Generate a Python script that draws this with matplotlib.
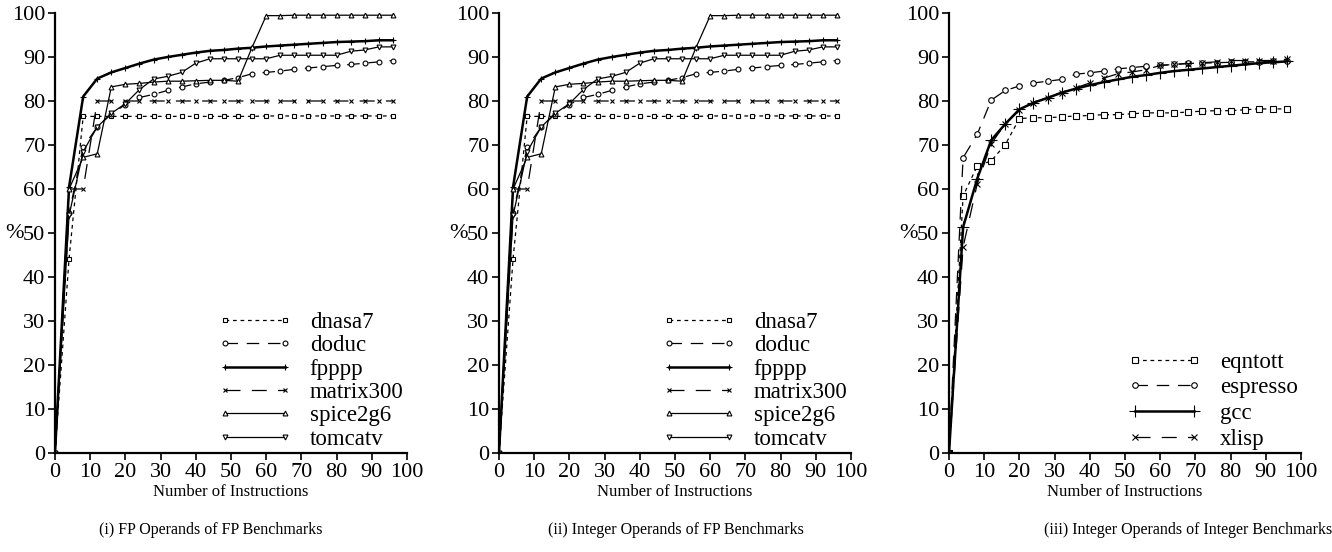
import matplotlib
matplotlib.use("Agg")
import matplotlib.pyplot as plt

plt.rcParams['font.family'] = ['Liberation Serif', 'DejaVu Serif']
plt.rcParams['axes.linewidth'] = 1.6

# x positions (number of instructions)
x = [0, 4, 8, 12, 16, 20, 24, 28, 32, 36, 40, 44, 48, 52, 56, 60, 64, 68, 72, 76, 80, 84, 88, 92, 96]

# FP benchmarks
dnasa7 = [0, 44.2, 76.5, 76.5, 76.5, 76.5, 76.5, 76.5, 76.5, 76.5, 76.5, 76.5, 76.5, 76.5, 76.5, 76.6,
          76.6, 76.6, 76.6, 76.6, 76.6, 76.6, 76.6, 76.6, 76.6]
doduc = [0, 54.5, 69.5, 74.1, 77.0, 79.2, 80.8, 81.5, 82.4, 83.2, 83.9, 84.3, 84.7, 85.3, 86.2, 86.5,
         86.8, 87.2, 87.5, 87.8, 88.1, 88.3, 88.6, 88.9, 89.2]
fpppp = [0, 60.5, 81.0, 85.1, 86.5, 87.5, 88.5, 89.4, 90.0, 90.5, 91.0, 91.4, 91.6, 91.9, 92.1, 92.4,
         92.6, 92.8, 93.0, 93.2, 93.4, 93.5, 93.6, 93.8, 93.8]
matrix300 = [0, 60.0, 60.0, 80.0, 80.0, 80.0, 80.0, 80.0, 80.0, 80.0, 80.0, 80.0, 80.0, 80.0, 80.0, 80.0,
             80.0, 80.0, 80.0, 80.0, 80.0, 80.0, 80.0, 80.0, 80.0]
spice2g6 = [0, 60.0, 67.2, 68.0, 83.2, 83.8, 84.0, 84.3, 84.5, 84.5, 84.6, 84.7, 84.7, 84.5, 92.2, 99.4,
            99.4, 99.5, 99.5, 99.5, 99.5, 99.5, 99.5, 99.5, 99.5]
tomcatv = [0, 54.0, 68.5, 74.1, 77.2, 79.4, 82.6, 85.0, 85.6, 86.5, 88.6, 89.6, 89.6, 89.6, 89.6, 89.6,
           90.4, 90.4, 90.4, 90.4, 90.4, 91.3, 91.6, 92.3, 92.3]

# integer benchmarks
eqntott = [0, 58.4, 65.2, 66.4, 70.1, 76.0, 76.2, 76.2, 76.4, 76.6, 76.7, 76.9, 76.9, 77.1, 77.3, 77.3,
           77.3, 77.5, 77.7, 77.8, 77.8, 78.0, 78.2, 78.2, 78.2]
espresso = [0, 67.1, 72.4, 80.2, 82.4, 83.4, 84.1, 84.5, 84.9, 86.1, 86.4, 86.8, 87.3, 87.6, 87.9, 88.1,
            88.3, 88.6, 88.6, 88.7, 88.8, 88.9, 88.9, 89.0, 89.0]
gcc = [0, 51.3, 62.3, 71.1, 74.8, 78.1, 79.6, 80.7, 81.9, 82.8, 83.6, 84.3, 84.9, 85.5, 85.9, 86.4,
       86.8, 87.1, 87.4, 87.7, 88.0, 88.3, 88.6, 88.8, 89.0]
xlisp = [0, 46.8, 61.1, 70.3, 74.8, 77.9, 79.6, 80.7, 81.9, 83.0, 84.1, 85.2, 86.2, 86.6, 87.1, 88.1,
         88.3, 88.5, 88.7, 88.9, 89.2, 89.2, 89.2, 89.2, 89.5]

fp_names = ['dnasa7', 'doduc', 'fpppp', 'matrix300', 'spice2g6', 'tomcatv']
fp_series = [dnasa7, doduc, fpppp, matrix300, spice2g6, tomcatv]
int_names = ['eqntott', 'espresso', 'gcc', 'xlisp']
int_series = [eqntott, espresso, gcc, xlisp]

captions = ['(i) FP Operands of FP Benchmarks',
            '(ii) Integer Operands of FP Benchmarks',
            '(iii) Integer Operands of Integer Benchmarks']

# line style per benchmark: (linestyle, marker, linewidth, markersize)
styles = {
    'dnasa7': ((0, (3, 3)), 's', 0.9, 3.5),
    'doduc': ((0, (10, 7)), 'o', 0.9, 3.5),
    'fpppp': ('-', '+', 1.8, 5),
    'matrix300': ((0, (12, 9)), 'x', 0.9, 3.5),
    'spice2g6': ('-', '^', 0.9, 3.5),
    'tomcatv': ('-', 'v', 0.9, 3.5),
    'eqntott': ((0, (3, 3)), 's', 0.9, 4.5),
    'espresso': ((0, (10, 7)), 'o', 0.9, 4),
    'gcc': ('-', '+', 1.8, 8),
    'xlisp': ((0, (12, 9)), 'x', 0.9, 5),
}

fig = plt.figure(figsize=(13.32, 5.52), dpi=100)
W, H = 1332, 552
lefts = [55, 499, 949]
panels = [(fp_names, fp_series), (fp_names, fp_series), (int_names, int_series)]
cap_x = [211, 676, 1188]
spacing = [0.1, 0.1, 0.2]

for k, (names, series) in enumerate(panels):
    ax = fig.add_axes([lefts[k] / W, (H - 453) / H, 352 / W, 440 / H])
    for name, ys in zip(names, series):
        ls, mk, lw, ms = styles[name]
        ax.plot(x, ys, linestyle=ls, marker=mk, color='black', lw=lw, ms=ms,
                mfc='white', mec='black', mew=0.8, label=name)
    ax.set_xlim(0, 100)
    ax.set_ylim(0, 100)
    ax.set_xticks(range(0, 101, 10))
    ax.set_yticks(range(0, 101, 10))
    ax.spines['top'].set_visible(False)
    ax.spines['right'].set_visible(False)
    ax.tick_params(labelsize=16, length=5, width=1.2, pad=2)
    ax.set_ylabel('%', rotation=0, fontsize=16, labelpad=-2, va='center')
    ax.set_xlabel('Number of Instructions', fontsize=12, labelpad=2)
    ax.legend(loc='lower right', frameon=False, fontsize=16.5, handlelength=3.2,
              numpoints=2, labelspacing=spacing[k], borderaxespad=0.15, handletextpad=0.8,
              borderpad=0)
    fig.text(cap_x[k] / W, 1 - 530 / H, captions[k], ha='center', va='center', fontsize=11.5)

fig.savefig('out.png', dpi=100)
